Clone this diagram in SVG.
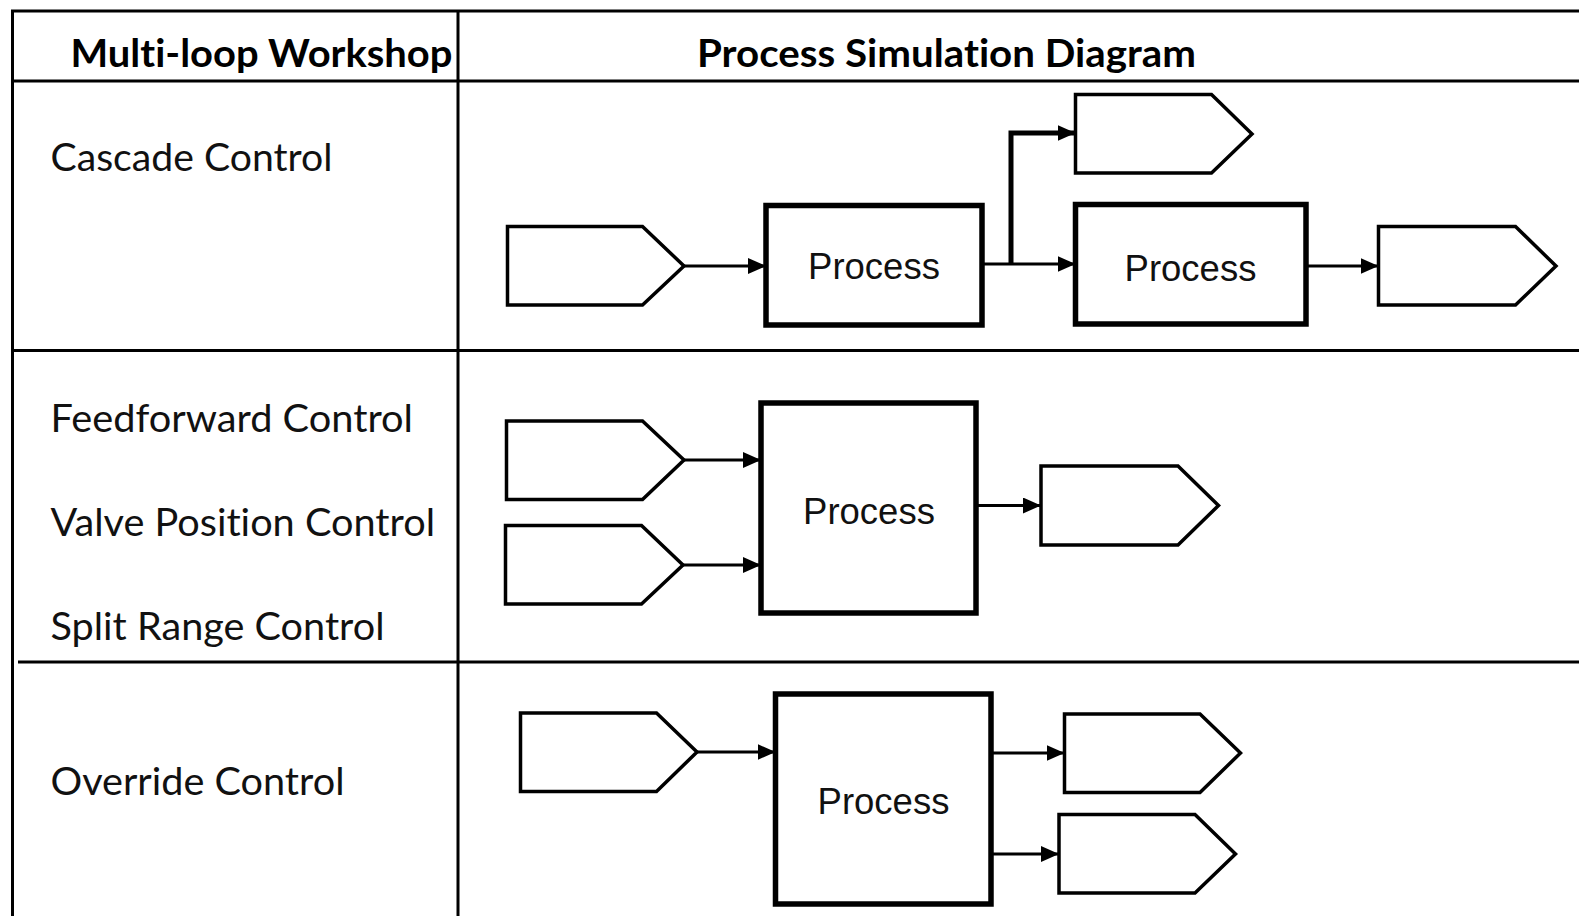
<svg xmlns="http://www.w3.org/2000/svg" width="1579" height="916" viewBox="0 0 1579 916">
<style>
.grid{stroke:#000;stroke-width:3;fill:none}
.tag{fill:#fff;stroke:#000;stroke-width:3.5;stroke-linejoin:miter}
.box{fill:#fff;stroke:#000;stroke-width:5.5}
.hdr{font-family:Lato,"Liberation Sans",sans-serif;font-weight:bold;font-size:39px;fill:#000;font-variant-ligatures:none;font-feature-settings:"liga" 0,"clig" 0,"dlig" 0}
.lbl{font-family:Lato,"Liberation Sans",sans-serif;font-size:38.5px;fill:#111;font-variant-ligatures:none;font-feature-settings:"liga" 0,"clig" 0,"dlig" 0}
.ptxt{font-family:"Liberation Sans",Arial,sans-serif;font-size:36.5px;fill:#111;text-anchor:middle}
.conn{stroke:#000;stroke-width:3.2;fill:none}
.conn-thick{stroke:#000;stroke-width:5;fill:none}
</style>
<defs>
<marker id="arr" markerUnits="userSpaceOnUse" markerWidth="18" markerHeight="16" refX="18" refY="8" orient="auto">
<path d="M0,0 L18,8 L0,16 Z" fill="#000"/>
</marker>
</defs>
<rect width="1579" height="916" fill="#fff"/>
<g id="table">
<path class="grid" d="M12.5,916 V11 H1579"/>
<path class="grid" d="M458,11 V916"/>
<path class="grid" d="M12,81 H1579"/>
<path class="grid" d="M12,350.5 H1579"/>
<path class="grid" d="M18,662 H1579"/>
</g>
<g id="headers">
<text class="hdr" x="70.5" y="67" textLength="382" lengthAdjust="spacingAndGlyphs">Multi-loop Workshop</text>
<text class="hdr" x="697" y="67" textLength="499" lengthAdjust="spacingAndGlyphs">Process Simulation Diagram</text>
</g>
<g id="labels">
<text class="lbl" x="50.5" y="171" textLength="282" lengthAdjust="spacingAndGlyphs">Cascade Control</text>
<text class="lbl" x="50.5" y="432" textLength="362.5" lengthAdjust="spacingAndGlyphs">Feedforward Control</text>
<text class="lbl" x="50.5" y="535.5" textLength="384.5" lengthAdjust="spacingAndGlyphs">Valve Position Control</text>
<text class="lbl" x="50.5" y="639.5" textLength="334" lengthAdjust="spacingAndGlyphs">Split Range Control</text>
<text class="lbl" x="50.5" y="794.5" textLength="294" lengthAdjust="spacingAndGlyphs">Override Control</text>
</g>
<g id="connectors">
<path class="conn" d="M684,266 H766" marker-end="url(#arr)"/>
<path class="conn" d="M982,264 H1075.5" marker-end="url(#arr)"/>
<path class="conn-thick" d="M1011,264 V133 H1075.5" marker-end="url(#arr)"/>
<path class="conn" d="M1306,266 H1378.5" marker-end="url(#arr)"/>
<path class="conn" d="M684,460 H761" marker-end="url(#arr)"/>
<path class="conn" d="M683,565 H761" marker-end="url(#arr)"/>
<path class="conn" d="M976,505.5 H1041" marker-end="url(#arr)"/>
<path class="conn" d="M697,752 H775.5" marker-end="url(#arr)"/>
<path class="conn" d="M991,753 H1064.5" marker-end="url(#arr)"/>
<path class="conn" d="M991,854 H1059" marker-end="url(#arr)"/>
</g>
<g id="cascade-in"><path class="tag" d="M507.5,226.5 H642.5 L684,266 L642.5,305 H507.5 Z"/></g>
<g id="cascade-proc1"><rect class="box" x="766" y="205.5" width="216" height="119.5"/><text class="ptxt" x="874" y="279">Process</text></g>
<g id="cascade-out-top"><path class="tag" d="M1075.5,94.5 H1211.5 L1252,134 L1211.5,173 H1075.5 Z"/></g>
<g id="cascade-proc2"><rect class="box" x="1075.5" y="204.5" width="230.5" height="119.5"/><text class="ptxt" x="1190.5" y="281">Process</text></g>
<g id="cascade-out"><path class="tag" d="M1378.5,226.5 H1515.5 L1556,266 L1515.5,305 H1378.5 Z"/></g>
<g id="ff-in1"><path class="tag" d="M506.5,421 H642.5 L684,460 L642.5,499.5 H506.5 Z"/></g>
<g id="ff-in2"><path class="tag" d="M505.5,525.5 H641.5 L683,565 L641.5,604 H505.5 Z"/></g>
<g id="ff-proc"><rect class="box" x="761" y="403" width="215" height="210"/><text class="ptxt" x="869" y="523.5">Process</text></g>
<g id="ff-out"><path class="tag" d="M1041,466 H1178 L1218.5,505.5 L1178,545 H1041 Z"/></g>
<g id="ov-in"><path class="tag" d="M520.5,713 H656.5 L697,752 L656.5,791.5 H520.5 Z"/></g>
<g id="ov-proc"><rect class="box" x="775.5" y="694" width="215.5" height="210"/><text class="ptxt" x="883.5" y="814">Process</text></g>
<g id="ov-out1"><path class="tag" d="M1064.5,714 H1200 L1240.5,753 L1200,792.5 H1064.5 Z"/></g>
<g id="ov-out2"><path class="tag" d="M1059,814.5 H1195 L1235.5,854 L1195,893 H1059 Z"/></g>
</svg>
